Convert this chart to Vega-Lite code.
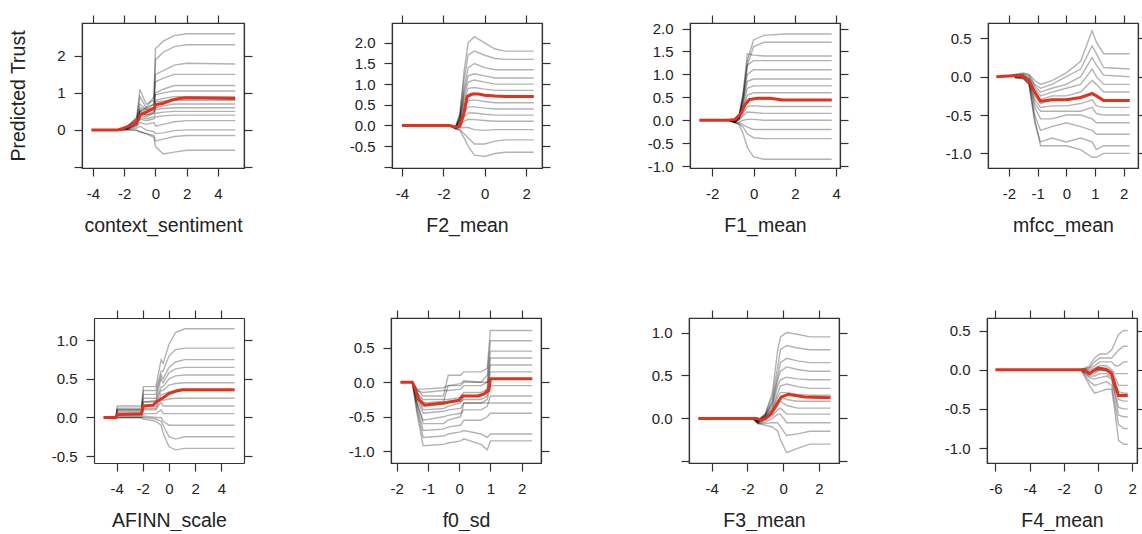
{
"$schema":"https://vega.github.io/schema/vega-lite/v6.json",
"background":"white",
"padding":{"left":7,"top":13,"right":0,"bottom":0},
"config":{
"view":{"stroke":"#333","strokeWidth":1.2},
"axis":{"domainColor":"#333","domainWidth":1.2,"tickColor":"#333","tickWidth":1.2,"tickSize":8,"grid":false,"labelColor":"#222","titleColor":"#222","labelFont":"Liberation Sans","titleFont":"Liberation Sans","labelFontSize":15,"titleFontSize":19.5,"titleFontWeight":"normal","labelFlush":false,"labelOverlap":false},
"axisBottom":{"labelPadding":10,"titlePadding":13,"minExtent":35,"maxExtent":35},
"axisTop":{"minExtent":8,"maxExtent":8},
"axisLeft":{"labelPadding":9,"minExtent":44,"maxExtent":44,"titlePadding":10},
"axisRight":{"minExtent":8,"maxExtent":8}
},
"datasets":{
"pd":[
{"p":1,"x":-4.1,"y":0},{"p":1,"x":-2.4,"y":0},{"p":1,"x":-2.0,"y":0.05},{"p":1,"x":-1.6,"y":0.12},{"p":1,"x":-1.3,"y":0.18},{"p":1,"x":-1.05,"y":0.3},{"p":1,"x":-1.0,"y":0.4},{"p":1,"x":-0.5,"y":0.5},{"p":1,"x":-0.05,"y":0.6},{"p":1,"x":0,"y":0.68},{"p":1,"x":0.5,"y":0.72},{"p":1,"x":1.0,"y":0.8},{"p":1,"x":1.5,"y":0.85},{"p":1,"x":2.0,"y":0.87},{"p":1,"x":5.1,"y":0.85},
{"p":2,"x":-4,"y":0},{"p":2,"x":-1.7,"y":0},{"p":2,"x":-1.4,"y":-0.04},{"p":2,"x":-1.2,"y":-0.02},{"p":2,"x":-1.0,"y":0.3},{"p":2,"x":-0.85,"y":0.7},{"p":2,"x":-0.6,"y":0.76},{"p":2,"x":-0.3,"y":0.76},{"p":2,"x":0,"y":0.73},{"p":2,"x":0.5,"y":0.71},{"p":2,"x":1,"y":0.7},{"p":2,"x":2.37,"y":0.7},
{"p":3,"x":-2.63,"y":0},{"p":3,"x":-1.2,"y":0},{"p":3,"x":-0.9,"y":0.02},{"p":3,"x":-0.6,"y":0.15},{"p":3,"x":-0.4,"y":0.35},{"p":3,"x":-0.2,"y":0.45},{"p":3,"x":0.2,"y":0.48},{"p":3,"x":0.8,"y":0.48},{"p":3,"x":1.4,"y":0.44},{"p":3,"x":3.79,"y":0.44},
{"p":4,"x":-2.44,"y":0},{"p":4,"x":-2.0,"y":0.01},{"p":4,"x":-1.6,"y":0.02},{"p":4,"x":-1.3,"y":-0.05},{"p":4,"x":-1.1,"y":-0.2},{"p":4,"x":-0.9,"y":-0.32},{"p":4,"x":-0.5,"y":-0.3},{"p":4,"x":0,"y":-0.3},{"p":4,"x":0.5,"y":-0.27},{"p":4,"x":0.9,"y":-0.22},{"p":4,"x":1.05,"y":-0.25},{"p":4,"x":1.3,"y":-0.31},{"p":4,"x":2.21,"y":-0.31},
{"p":5,"x":-5,"y":0},{"p":5,"x":-4.05,"y":0},{"p":5,"x":-3.95,"y":0.04},{"p":5,"x":-2.1,"y":0.05},{"p":5,"x":-1.95,"y":0.15},{"p":5,"x":-1.2,"y":0.16},{"p":5,"x":-1.0,"y":0.2},{"p":5,"x":-0.5,"y":0.25},{"p":5,"x":0,"y":0.31},{"p":5,"x":0.5,"y":0.34},{"p":5,"x":1.0,"y":0.36},{"p":5,"x":5,"y":0.36},
{"p":6,"x":-1.88,"y":0},{"p":6,"x":-1.5,"y":0},{"p":6,"x":-1.4,"y":-0.1},{"p":6,"x":-1.3,"y":-0.25},{"p":6,"x":-1.1,"y":-0.33},{"p":6,"x":-0.5,"y":-0.3},{"p":6,"x":0,"y":-0.26},{"p":6,"x":0.1,"y":-0.2},{"p":6,"x":0.6,"y":-0.2},{"p":6,"x":0.8,"y":-0.17},{"p":6,"x":0.95,"y":-0.12},{"p":6,"x":1.0,"y":0.05},{"p":6,"x":2.34,"y":0.05},
{"p":7,"x":-4.75,"y":0},{"p":7,"x":-1.5,"y":0},{"p":7,"x":-1.2,"y":-0.02},{"p":7,"x":-1.0,"y":0},{"p":7,"x":-0.7,"y":0.05},{"p":7,"x":-0.4,"y":0.15},{"p":7,"x":-0.1,"y":0.25},{"p":7,"x":0.3,"y":0.28},{"p":7,"x":0.6,"y":0.27},{"p":7,"x":1.2,"y":0.25},{"p":7,"x":2.66,"y":0.24},
{"p":8,"x":-6,"y":0},{"p":8,"x":-0.8,"y":0},{"p":8,"x":-0.5,"y":-0.05},{"p":8,"x":-0.3,"y":-0.02},{"p":8,"x":0,"y":0.02},{"p":8,"x":0.5,"y":0},{"p":8,"x":0.8,"y":-0.05},{"p":8,"x":1.0,"y":-0.2},{"p":8,"x":1.2,"y":-0.33},{"p":8,"x":1.74,"y":-0.33}
],
"ice":[
{"p":1,"c":1,"x":-2.3,"y":0},{"p":1,"c":1,"x":-1.8,"y":0.05},{"p":1,"c":1,"x":-1.2,"y":0.2},{"p":1,"c":1,"x":-1.0,"y":0.5},{"p":1,"c":1,"x":-0.6,"y":0.6},{"p":1,"c":1,"x":-0.1,"y":0.9},{"p":1,"c":1,"x":0,"y":2.2},{"p":1,"c":1,"x":0.5,"y":2.4},{"p":1,"c":1,"x":1.2,"y":2.55},{"p":1,"c":1,"x":2.0,"y":2.6},{"p":1,"c":1,"x":5.1,"y":2.6},
{"p":1,"c":2,"x":-2.3,"y":0},{"p":1,"c":2,"x":-1.8,"y":0.1},{"p":1,"c":2,"x":-1.2,"y":0.3},{"p":1,"c":2,"x":-1.0,"y":1.1},{"p":1,"c":2,"x":-0.6,"y":0.7},{"p":1,"c":2,"x":-0.1,"y":0.8},{"p":1,"c":2,"x":0,"y":1.9},{"p":1,"c":2,"x":0.5,"y":2.1},{"p":1,"c":2,"x":1.2,"y":2.25},{"p":1,"c":2,"x":2.0,"y":2.3},{"p":1,"c":2,"x":5.1,"y":2.3},
{"p":1,"c":3,"x":-2.3,"y":0},{"p":1,"c":3,"x":-1.8,"y":0.05},{"p":1,"c":3,"x":-1.2,"y":0.25},{"p":1,"c":3,"x":-1.0,"y":0.6},{"p":1,"c":3,"x":-0.6,"y":0.55},{"p":1,"c":3,"x":-0.1,"y":0.7},{"p":1,"c":3,"x":0,"y":1.5},{"p":1,"c":3,"x":0.5,"y":1.6},{"p":1,"c":3,"x":1.2,"y":1.75},{"p":1,"c":3,"x":2.0,"y":1.8},{"p":1,"c":3,"x":5.1,"y":1.78},
{"p":1,"c":4,"x":-2.3,"y":0},{"p":1,"c":4,"x":-1.8,"y":0.08},{"p":1,"c":4,"x":-1.2,"y":0.35},{"p":1,"c":4,"x":-1.0,"y":0.9},{"p":1,"c":4,"x":-0.6,"y":0.6},{"p":1,"c":4,"x":-0.1,"y":0.7},{"p":1,"c":4,"x":0,"y":1.3},{"p":1,"c":4,"x":0.5,"y":1.4},{"p":1,"c":4,"x":1.2,"y":1.5},{"p":1,"c":4,"x":2.0,"y":1.5},{"p":1,"c":4,"x":5.1,"y":1.5},
{"p":1,"c":5,"x":-2.3,"y":0},{"p":1,"c":5,"x":-1.8,"y":0.05},{"p":1,"c":5,"x":-1.2,"y":0.2},{"p":1,"c":5,"x":-1.0,"y":0.5},{"p":1,"c":5,"x":-0.6,"y":0.45},{"p":1,"c":5,"x":-0.1,"y":0.6},{"p":1,"c":5,"x":0,"y":1.0},{"p":1,"c":5,"x":0.5,"y":1.1},{"p":1,"c":5,"x":1.2,"y":1.2},{"p":1,"c":5,"x":2.0,"y":1.2},{"p":1,"c":5,"x":5.1,"y":1.2},
{"p":1,"c":6,"x":-2.3,"y":0},{"p":1,"c":6,"x":-1.8,"y":0.1},{"p":1,"c":6,"x":-1.2,"y":0.3},{"p":1,"c":6,"x":-1.0,"y":0.7},{"p":1,"c":6,"x":-0.6,"y":0.55},{"p":1,"c":6,"x":-0.1,"y":0.6},{"p":1,"c":6,"x":0,"y":0.95},{"p":1,"c":6,"x":0.5,"y":1.0},{"p":1,"c":6,"x":1.2,"y":1.05},{"p":1,"c":6,"x":2.0,"y":1.05},{"p":1,"c":6,"x":5.1,"y":1.05},
{"p":1,"c":7,"x":-2.3,"y":0},{"p":1,"c":7,"x":-1.8,"y":0.04},{"p":1,"c":7,"x":-1.2,"y":0.2},{"p":1,"c":7,"x":-1.0,"y":0.45},{"p":1,"c":7,"x":-0.6,"y":0.4},{"p":1,"c":7,"x":-0.1,"y":0.5},{"p":1,"c":7,"x":0,"y":0.8},{"p":1,"c":7,"x":0.5,"y":0.85},{"p":1,"c":7,"x":1.2,"y":0.9},{"p":1,"c":7,"x":2.0,"y":0.9},{"p":1,"c":7,"x":5.1,"y":0.9},
{"p":1,"c":8,"x":-2.3,"y":0},{"p":1,"c":8,"x":-1.8,"y":0.06},{"p":1,"c":8,"x":-1.2,"y":0.25},{"p":1,"c":8,"x":-1.0,"y":0.55},{"p":1,"c":8,"x":-0.6,"y":0.5},{"p":1,"c":8,"x":-0.1,"y":0.55},{"p":1,"c":8,"x":0,"y":0.75},{"p":1,"c":8,"x":0.5,"y":0.78},{"p":1,"c":8,"x":1.2,"y":0.8},{"p":1,"c":8,"x":2.0,"y":0.8},{"p":1,"c":8,"x":5.1,"y":0.8},
{"p":1,"c":9,"x":-2.3,"y":0},{"p":1,"c":9,"x":-1.8,"y":0.03},{"p":1,"c":9,"x":-1.2,"y":0.15},{"p":1,"c":9,"x":-1.0,"y":0.4},{"p":1,"c":9,"x":-0.6,"y":0.35},{"p":1,"c":9,"x":-0.1,"y":0.45},{"p":1,"c":9,"x":0,"y":0.6},{"p":1,"c":9,"x":0.5,"y":0.65},{"p":1,"c":9,"x":1.2,"y":0.7},{"p":1,"c":9,"x":2.0,"y":0.7},{"p":1,"c":9,"x":5.1,"y":0.7},
{"p":1,"c":10,"x":-2.3,"y":0},{"p":1,"c":10,"x":-1.8,"y":0.05},{"p":1,"c":10,"x":-1.2,"y":0.2},{"p":1,"c":10,"x":-1.0,"y":0.5},{"p":1,"c":10,"x":-0.6,"y":0.4},{"p":1,"c":10,"x":-0.1,"y":0.45},{"p":1,"c":10,"x":0,"y":0.55},{"p":1,"c":10,"x":0.5,"y":0.58},{"p":1,"c":10,"x":1.2,"y":0.6},{"p":1,"c":10,"x":2.0,"y":0.6},{"p":1,"c":10,"x":5.1,"y":0.6},
{"p":1,"c":11,"x":-2.3,"y":0},{"p":1,"c":11,"x":-1.8,"y":0.02},{"p":1,"c":11,"x":-1.2,"y":0.15},{"p":1,"c":11,"x":-1.0,"y":0.35},{"p":1,"c":11,"x":-0.6,"y":0.3},{"p":1,"c":11,"x":-0.1,"y":0.35},{"p":1,"c":11,"x":0,"y":0.45},{"p":1,"c":11,"x":0.5,"y":0.48},{"p":1,"c":11,"x":1.2,"y":0.5},{"p":1,"c":11,"x":2.0,"y":0.5},{"p":1,"c":11,"x":5.1,"y":0.5},
{"p":1,"c":12,"x":-2.3,"y":0},{"p":1,"c":12,"x":-1.8,"y":0.04},{"p":1,"c":12,"x":-1.2,"y":0.12},{"p":1,"c":12,"x":-1.0,"y":0.3},{"p":1,"c":12,"x":-0.6,"y":0.25},{"p":1,"c":12,"x":-0.1,"y":0.3},{"p":1,"c":12,"x":0,"y":0.35},{"p":1,"c":12,"x":0.5,"y":0.38},{"p":1,"c":12,"x":1.2,"y":0.4},{"p":1,"c":12,"x":2.0,"y":0.4},{"p":1,"c":12,"x":5.1,"y":0.4},
{"p":1,"c":13,"x":-2.3,"y":0},{"p":1,"c":13,"x":-1.8,"y":0.02},{"p":1,"c":13,"x":-1.2,"y":0.1},{"p":1,"c":13,"x":-1.0,"y":0.2},{"p":1,"c":13,"x":-0.6,"y":0.15},{"p":1,"c":13,"x":-0.1,"y":0.2},{"p":1,"c":13,"x":0,"y":0.1},{"p":1,"c":13,"x":0.5,"y":0.15},{"p":1,"c":13,"x":1.2,"y":0.22},{"p":1,"c":13,"x":2.0,"y":0.25},{"p":1,"c":13,"x":5.1,"y":0.25},
{"p":1,"c":14,"x":-2.3,"y":0},{"p":1,"c":14,"x":-1.8,"y":0.01},{"p":1,"c":14,"x":-1.2,"y":0.05},{"p":1,"c":14,"x":-1.0,"y":0.1},{"p":1,"c":14,"x":-0.6,"y":0},{"p":1,"c":14,"x":-0.1,"y":-0.05},{"p":1,"c":14,"x":0,"y":-0.1},{"p":1,"c":14,"x":0.5,"y":-0.08},{"p":1,"c":14,"x":1.2,"y":-0.02},{"p":1,"c":14,"x":2.0,"y":0},{"p":1,"c":14,"x":5.1,"y":0},
{"p":1,"c":15,"x":-2.3,"y":0},{"p":1,"c":15,"x":-1.8,"y":0},{"p":1,"c":15,"x":-1.2,"y":-0.02},{"p":1,"c":15,"x":-1.0,"y":-0.05},{"p":1,"c":15,"x":-0.6,"y":-0.1},{"p":1,"c":15,"x":-0.1,"y":-0.15},{"p":1,"c":15,"x":0,"y":-0.3},{"p":1,"c":15,"x":0.5,"y":-0.25},{"p":1,"c":15,"x":1.2,"y":-0.18},{"p":1,"c":15,"x":2.0,"y":-0.15},{"p":1,"c":15,"x":5.1,"y":-0.15},
{"p":1,"c":16,"x":-2.3,"y":0},{"p":1,"c":16,"x":-1.8,"y":0},{"p":1,"c":16,"x":-1.2,"y":0},{"p":1,"c":16,"x":-1.0,"y":-0.05},{"p":1,"c":16,"x":-0.6,"y":-0.1},{"p":1,"c":16,"x":-0.1,"y":-0.2},{"p":1,"c":16,"x":0,"y":-0.45},{"p":1,"c":16,"x":0.5,"y":-0.65},{"p":1,"c":16,"x":1.2,"y":-0.6},{"p":1,"c":16,"x":2.0,"y":-0.55},{"p":1,"c":16,"x":5.1,"y":-0.55},
{"p":2,"c":1,"x":-1.7,"y":0},{"p":2,"c":1,"x":-1.4,"y":-0.02},{"p":2,"c":1,"x":-1.2,"y":0.3},{"p":2,"c":1,"x":-1.0,"y":1.3},{"p":2,"c":1,"x":-0.8,"y":2.0},{"p":2,"c":1,"x":-0.5,"y":2.15},{"p":2,"c":1,"x":0,"y":2.0},{"p":2,"c":1,"x":0.5,"y":1.85},{"p":2,"c":1,"x":1.0,"y":1.8},{"p":2,"c":1,"x":2.37,"y":1.8},
{"p":2,"c":2,"x":-1.7,"y":0},{"p":2,"c":2,"x":-1.4,"y":-0.03},{"p":2,"c":2,"x":-1.2,"y":0.25},{"p":2,"c":2,"x":-1.0,"y":1.1},{"p":2,"c":2,"x":-0.8,"y":1.7},{"p":2,"c":2,"x":-0.5,"y":1.8},{"p":2,"c":2,"x":0,"y":1.7},{"p":2,"c":2,"x":0.5,"y":1.62},{"p":2,"c":2,"x":1.0,"y":1.6},{"p":2,"c":2,"x":2.37,"y":1.6},
{"p":2,"c":3,"x":-1.7,"y":0},{"p":2,"c":3,"x":-1.4,"y":-0.05},{"p":2,"c":3,"x":-1.2,"y":0.2},{"p":2,"c":3,"x":-1.0,"y":0.9},{"p":2,"c":3,"x":-0.8,"y":1.4},{"p":2,"c":3,"x":-0.5,"y":1.5},{"p":2,"c":3,"x":0,"y":1.4},{"p":2,"c":3,"x":0.5,"y":1.35},{"p":2,"c":3,"x":1.0,"y":1.35},{"p":2,"c":3,"x":2.37,"y":1.35},
{"p":2,"c":4,"x":-1.7,"y":0},{"p":2,"c":4,"x":-1.4,"y":-0.04},{"p":2,"c":4,"x":-1.2,"y":0.2},{"p":2,"c":4,"x":-1.0,"y":0.8},{"p":2,"c":4,"x":-0.8,"y":1.2},{"p":2,"c":4,"x":-0.5,"y":1.25},{"p":2,"c":4,"x":0,"y":1.2},{"p":2,"c":4,"x":0.5,"y":1.15},{"p":2,"c":4,"x":1.0,"y":1.15},{"p":2,"c":4,"x":2.37,"y":1.15},
{"p":2,"c":5,"x":-1.7,"y":0},{"p":2,"c":5,"x":-1.4,"y":-0.05},{"p":2,"c":5,"x":-1.2,"y":0.15},{"p":2,"c":5,"x":-1.0,"y":0.7},{"p":2,"c":5,"x":-0.8,"y":1.05},{"p":2,"c":5,"x":-0.5,"y":1.1},{"p":2,"c":5,"x":0,"y":1.05},{"p":2,"c":5,"x":0.5,"y":1.0},{"p":2,"c":5,"x":1.0,"y":1.0},{"p":2,"c":5,"x":2.37,"y":1.0},
{"p":2,"c":6,"x":-1.7,"y":0},{"p":2,"c":6,"x":-1.4,"y":-0.05},{"p":2,"c":6,"x":-1.2,"y":0.15},{"p":2,"c":6,"x":-1.0,"y":0.6},{"p":2,"c":6,"x":-0.8,"y":0.9},{"p":2,"c":6,"x":-0.5,"y":0.92},{"p":2,"c":6,"x":0,"y":0.88},{"p":2,"c":6,"x":0.5,"y":0.85},{"p":2,"c":6,"x":1.0,"y":0.85},{"p":2,"c":6,"x":2.37,"y":0.85},
{"p":2,"c":7,"x":-1.7,"y":0},{"p":2,"c":7,"x":-1.4,"y":-0.06},{"p":2,"c":7,"x":-1.2,"y":0.1},{"p":2,"c":7,"x":-1.0,"y":0.5},{"p":2,"c":7,"x":-0.8,"y":0.75},{"p":2,"c":7,"x":-0.5,"y":0.78},{"p":2,"c":7,"x":0,"y":0.72},{"p":2,"c":7,"x":0.5,"y":0.7},{"p":2,"c":7,"x":1.0,"y":0.7},{"p":2,"c":7,"x":2.37,"y":0.7},
{"p":2,"c":8,"x":-1.7,"y":0},{"p":2,"c":8,"x":-1.4,"y":-0.06},{"p":2,"c":8,"x":-1.2,"y":0.1},{"p":2,"c":8,"x":-1.0,"y":0.4},{"p":2,"c":8,"x":-0.8,"y":0.6},{"p":2,"c":8,"x":-0.5,"y":0.62},{"p":2,"c":8,"x":0,"y":0.58},{"p":2,"c":8,"x":0.5,"y":0.55},{"p":2,"c":8,"x":1.0,"y":0.55},{"p":2,"c":8,"x":2.37,"y":0.55},
{"p":2,"c":9,"x":-1.7,"y":0},{"p":2,"c":9,"x":-1.4,"y":-0.07},{"p":2,"c":9,"x":-1.2,"y":0.05},{"p":2,"c":9,"x":-1.0,"y":0.3},{"p":2,"c":9,"x":-0.8,"y":0.45},{"p":2,"c":9,"x":-0.5,"y":0.45},{"p":2,"c":9,"x":0,"y":0.42},{"p":2,"c":9,"x":0.5,"y":0.4},{"p":2,"c":9,"x":1.0,"y":0.4},{"p":2,"c":9,"x":2.37,"y":0.4},
{"p":2,"c":10,"x":-1.7,"y":0},{"p":2,"c":10,"x":-1.4,"y":-0.07},{"p":2,"c":10,"x":-1.2,"y":0.02},{"p":2,"c":10,"x":-1.0,"y":0.2},{"p":2,"c":10,"x":-0.8,"y":0.3},{"p":2,"c":10,"x":-0.5,"y":0.3},{"p":2,"c":10,"x":0,"y":0.27},{"p":2,"c":10,"x":0.5,"y":0.25},{"p":2,"c":10,"x":1.0,"y":0.25},{"p":2,"c":10,"x":2.37,"y":0.25},
{"p":2,"c":11,"x":-1.7,"y":0},{"p":2,"c":11,"x":-1.4,"y":-0.08},{"p":2,"c":11,"x":-1.2,"y":-0.02},{"p":2,"c":11,"x":-1.0,"y":0.1},{"p":2,"c":11,"x":-0.8,"y":0.15},{"p":2,"c":11,"x":-0.5,"y":0.14},{"p":2,"c":11,"x":0,"y":0.12},{"p":2,"c":11,"x":0.5,"y":0.1},{"p":2,"c":11,"x":1.0,"y":0.1},{"p":2,"c":11,"x":2.37,"y":0.1},
{"p":2,"c":12,"x":-1.7,"y":0},{"p":2,"c":12,"x":-1.4,"y":-0.08},{"p":2,"c":12,"x":-1.2,"y":-0.06},{"p":2,"c":12,"x":-1.0,"y":-0.05},{"p":2,"c":12,"x":-0.8,"y":-0.05},{"p":2,"c":12,"x":-0.5,"y":-0.1},{"p":2,"c":12,"x":0,"y":-0.12},{"p":2,"c":12,"x":0.5,"y":-0.1},{"p":2,"c":12,"x":1.0,"y":-0.1},{"p":2,"c":12,"x":2.37,"y":-0.1},
{"p":2,"c":13,"x":-1.7,"y":0},{"p":2,"c":13,"x":-1.4,"y":-0.08},{"p":2,"c":13,"x":-1.2,"y":-0.1},{"p":2,"c":13,"x":-1.0,"y":-0.2},{"p":2,"c":13,"x":-0.8,"y":-0.3},{"p":2,"c":13,"x":-0.5,"y":-0.45},{"p":2,"c":13,"x":0,"y":-0.45},{"p":2,"c":13,"x":0.5,"y":-0.38},{"p":2,"c":13,"x":1.0,"y":-0.35},{"p":2,"c":13,"x":2.37,"y":-0.35},
{"p":2,"c":14,"x":-1.7,"y":0},{"p":2,"c":14,"x":-1.4,"y":-0.08},{"p":2,"c":14,"x":-1.2,"y":-0.12},{"p":2,"c":14,"x":-1.0,"y":-0.3},{"p":2,"c":14,"x":-0.8,"y":-0.5},{"p":2,"c":14,"x":-0.5,"y":-0.72},{"p":2,"c":14,"x":0,"y":-0.75},{"p":2,"c":14,"x":0.5,"y":-0.68},{"p":2,"c":14,"x":1.0,"y":-0.65},{"p":2,"c":14,"x":2.37,"y":-0.65},
{"p":3,"c":1,"x":-1.2,"y":0},{"p":3,"c":1,"x":-0.9,"y":0},{"p":3,"c":1,"x":-0.7,"y":0.1},{"p":3,"c":1,"x":-0.5,"y":0.6},{"p":3,"c":1,"x":-0.3,"y":1.3},{"p":3,"c":1,"x":0,"y":1.75},{"p":3,"c":1,"x":0.5,"y":1.85},{"p":3,"c":1,"x":1.5,"y":1.88},{"p":3,"c":1,"x":3.79,"y":1.88},
{"p":3,"c":2,"x":-1.2,"y":0},{"p":3,"c":2,"x":-0.9,"y":0},{"p":3,"c":2,"x":-0.7,"y":0.1},{"p":3,"c":2,"x":-0.5,"y":0.5},{"p":3,"c":2,"x":-0.3,"y":1.2},{"p":3,"c":2,"x":0,"y":1.6},{"p":3,"c":2,"x":0.5,"y":1.7},{"p":3,"c":2,"x":1.5,"y":1.7},{"p":3,"c":2,"x":3.79,"y":1.7},
{"p":3,"c":3,"x":-1.2,"y":0},{"p":3,"c":3,"x":-0.9,"y":-0.02},{"p":3,"c":3,"x":-0.7,"y":0.1},{"p":3,"c":3,"x":-0.5,"y":0.6},{"p":3,"c":3,"x":-0.3,"y":1.45},{"p":3,"c":3,"x":0,"y":1.42},{"p":3,"c":3,"x":0.5,"y":1.4},{"p":3,"c":3,"x":1.5,"y":1.4},{"p":3,"c":3,"x":3.79,"y":1.4},
{"p":3,"c":4,"x":-1.2,"y":0},{"p":3,"c":4,"x":-0.9,"y":-0.02},{"p":3,"c":4,"x":-0.7,"y":0.08},{"p":3,"c":4,"x":-0.5,"y":0.5},{"p":3,"c":4,"x":-0.3,"y":1.2},{"p":3,"c":4,"x":0,"y":1.3},{"p":3,"c":4,"x":0.5,"y":1.3},{"p":3,"c":4,"x":1.5,"y":1.3},{"p":3,"c":4,"x":3.79,"y":1.3},
{"p":3,"c":5,"x":-1.2,"y":0},{"p":3,"c":5,"x":-0.9,"y":-0.02},{"p":3,"c":5,"x":-0.7,"y":0.08},{"p":3,"c":5,"x":-0.5,"y":0.45},{"p":3,"c":5,"x":-0.3,"y":1.0},{"p":3,"c":5,"x":0,"y":1.1},{"p":3,"c":5,"x":0.5,"y":1.1},{"p":3,"c":5,"x":1.5,"y":1.1},{"p":3,"c":5,"x":3.79,"y":1.1},
{"p":3,"c":6,"x":-1.2,"y":0},{"p":3,"c":6,"x":-0.9,"y":-0.03},{"p":3,"c":6,"x":-0.7,"y":0.06},{"p":3,"c":6,"x":-0.5,"y":0.4},{"p":3,"c":6,"x":-0.3,"y":0.85},{"p":3,"c":6,"x":0,"y":0.9},{"p":3,"c":6,"x":0.5,"y":0.9},{"p":3,"c":6,"x":1.5,"y":0.9},{"p":3,"c":6,"x":3.79,"y":0.9},
{"p":3,"c":7,"x":-1.2,"y":0},{"p":3,"c":7,"x":-0.9,"y":-0.03},{"p":3,"c":7,"x":-0.7,"y":0.05},{"p":3,"c":7,"x":-0.5,"y":0.35},{"p":3,"c":7,"x":-0.3,"y":0.7},{"p":3,"c":7,"x":0,"y":0.75},{"p":3,"c":7,"x":0.5,"y":0.75},{"p":3,"c":7,"x":1.5,"y":0.75},{"p":3,"c":7,"x":3.79,"y":0.75},
{"p":3,"c":8,"x":-1.2,"y":0},{"p":3,"c":8,"x":-0.9,"y":-0.03},{"p":3,"c":8,"x":-0.7,"y":0.05},{"p":3,"c":8,"x":-0.5,"y":0.3},{"p":3,"c":8,"x":-0.3,"y":0.55},{"p":3,"c":8,"x":0,"y":0.6},{"p":3,"c":8,"x":0.5,"y":0.6},{"p":3,"c":8,"x":1.5,"y":0.6},{"p":3,"c":8,"x":3.79,"y":0.6},
{"p":3,"c":9,"x":-1.2,"y":0},{"p":3,"c":9,"x":-0.9,"y":-0.04},{"p":3,"c":9,"x":-0.7,"y":0.03},{"p":3,"c":9,"x":-0.5,"y":0.25},{"p":3,"c":9,"x":-0.3,"y":0.45},{"p":3,"c":9,"x":0,"y":0.48},{"p":3,"c":9,"x":0.5,"y":0.46},{"p":3,"c":9,"x":1.5,"y":0.45},{"p":3,"c":9,"x":3.79,"y":0.45},
{"p":3,"c":10,"x":-1.2,"y":0},{"p":3,"c":10,"x":-0.9,"y":-0.04},{"p":3,"c":10,"x":-0.7,"y":0.02},{"p":3,"c":10,"x":-0.5,"y":0.15},{"p":3,"c":10,"x":-0.3,"y":0.3},{"p":3,"c":10,"x":0,"y":0.32},{"p":3,"c":10,"x":0.5,"y":0.3},{"p":3,"c":10,"x":1.5,"y":0.3},{"p":3,"c":10,"x":3.79,"y":0.3},
{"p":3,"c":11,"x":-1.2,"y":0},{"p":3,"c":11,"x":-0.9,"y":-0.04},{"p":3,"c":11,"x":-0.7,"y":0},{"p":3,"c":11,"x":-0.5,"y":0.1},{"p":3,"c":11,"x":-0.3,"y":0.18},{"p":3,"c":11,"x":0,"y":0.17},{"p":3,"c":11,"x":0.5,"y":0.15},{"p":3,"c":11,"x":1.5,"y":0.15},{"p":3,"c":11,"x":3.79,"y":0.15},
{"p":3,"c":12,"x":-1.2,"y":0},{"p":3,"c":12,"x":-0.9,"y":-0.05},{"p":3,"c":12,"x":-0.7,"y":-0.04},{"p":3,"c":12,"x":-0.5,"y":0},{"p":3,"c":12,"x":-0.3,"y":0.02},{"p":3,"c":12,"x":0,"y":0.02},{"p":3,"c":12,"x":0.5,"y":0},{"p":3,"c":12,"x":1.5,"y":0},{"p":3,"c":12,"x":3.79,"y":0},
{"p":3,"c":13,"x":-1.2,"y":0},{"p":3,"c":13,"x":-0.9,"y":-0.05},{"p":3,"c":13,"x":-0.7,"y":-0.06},{"p":3,"c":13,"x":-0.5,"y":-0.1},{"p":3,"c":13,"x":-0.3,"y":-0.15},{"p":3,"c":13,"x":0,"y":-0.2},{"p":3,"c":13,"x":0.5,"y":-0.2},{"p":3,"c":13,"x":1.5,"y":-0.2},{"p":3,"c":13,"x":3.79,"y":-0.2},
{"p":3,"c":14,"x":-1.2,"y":0},{"p":3,"c":14,"x":-0.9,"y":-0.05},{"p":3,"c":14,"x":-0.7,"y":-0.08},{"p":3,"c":14,"x":-0.5,"y":-0.15},{"p":3,"c":14,"x":-0.3,"y":-0.3},{"p":3,"c":14,"x":0,"y":-0.38},{"p":3,"c":14,"x":0.5,"y":-0.4},{"p":3,"c":14,"x":1.5,"y":-0.4},{"p":3,"c":14,"x":3.79,"y":-0.4},
{"p":3,"c":15,"x":-1.2,"y":0},{"p":3,"c":15,"x":-0.9,"y":-0.05},{"p":3,"c":15,"x":-0.7,"y":-0.1},{"p":3,"c":15,"x":-0.5,"y":-0.3},{"p":3,"c":15,"x":-0.3,"y":-0.6},{"p":3,"c":15,"x":0,"y":-0.8},{"p":3,"c":15,"x":0.5,"y":-0.85},{"p":3,"c":15,"x":1.5,"y":-0.85},{"p":3,"c":15,"x":3.79,"y":-0.85},
{"p":4,"c":1,"x":-1.8,"y":0.03},{"p":4,"c":1,"x":-1.5,"y":0.05},{"p":4,"c":1,"x":-1.3,"y":0.03},{"p":4,"c":1,"x":-1.1,"y":-0.05},{"p":4,"c":1,"x":-0.9,"y":-0.1},{"p":4,"c":1,"x":-0.5,"y":-0.05},{"p":4,"c":1,"x":0,"y":0.05},{"p":4,"c":1,"x":0.5,"y":0.2},{"p":4,"c":1,"x":0.9,"y":0.6},{"p":4,"c":1,"x":1.05,"y":0.45},{"p":4,"c":1,"x":1.3,"y":0.3},{"p":4,"c":1,"x":2.21,"y":0.3},
{"p":4,"c":2,"x":-1.8,"y":0.02},{"p":4,"c":2,"x":-1.5,"y":0.04},{"p":4,"c":2,"x":-1.3,"y":0.02},{"p":4,"c":2,"x":-1.1,"y":-0.1},{"p":4,"c":2,"x":-0.9,"y":-0.15},{"p":4,"c":2,"x":-0.5,"y":-0.1},{"p":4,"c":2,"x":0,"y":0},{"p":4,"c":2,"x":0.5,"y":0.1},{"p":4,"c":2,"x":0.9,"y":0.4},{"p":4,"c":2,"x":1.05,"y":0.3},{"p":4,"c":2,"x":1.3,"y":0.12},{"p":4,"c":2,"x":2.21,"y":0.1},
{"p":4,"c":3,"x":-1.8,"y":0.02},{"p":4,"c":3,"x":-1.5,"y":0.03},{"p":4,"c":3,"x":-1.3,"y":0},{"p":4,"c":3,"x":-1.1,"y":-0.12},{"p":4,"c":3,"x":-0.9,"y":-0.2},{"p":4,"c":3,"x":-0.5,"y":-0.15},{"p":4,"c":3,"x":0,"y":-0.1},{"p":4,"c":3,"x":0.5,"y":0},{"p":4,"c":3,"x":0.9,"y":0.25},{"p":4,"c":3,"x":1.05,"y":0.15},{"p":4,"c":3,"x":1.3,"y":0.02},{"p":4,"c":3,"x":2.21,"y":0},
{"p":4,"c":4,"x":-1.8,"y":0.01},{"p":4,"c":4,"x":-1.5,"y":0.02},{"p":4,"c":4,"x":-1.3,"y":-0.02},{"p":4,"c":4,"x":-1.1,"y":-0.15},{"p":4,"c":4,"x":-0.9,"y":-0.25},{"p":4,"c":4,"x":-0.5,"y":-0.2},{"p":4,"c":4,"x":0,"y":-0.15},{"p":4,"c":4,"x":0.5,"y":-0.1},{"p":4,"c":4,"x":0.9,"y":0.1},{"p":4,"c":4,"x":1.05,"y":0},{"p":4,"c":4,"x":1.3,"y":-0.1},{"p":4,"c":4,"x":2.21,"y":-0.1},
{"p":4,"c":5,"x":-1.8,"y":0.01},{"p":4,"c":5,"x":-1.5,"y":0.02},{"p":4,"c":5,"x":-1.3,"y":-0.03},{"p":4,"c":5,"x":-1.1,"y":-0.2},{"p":4,"c":5,"x":-0.9,"y":-0.3},{"p":4,"c":5,"x":-0.5,"y":-0.25},{"p":4,"c":5,"x":0,"y":-0.25},{"p":4,"c":5,"x":0.5,"y":-0.2},{"p":4,"c":5,"x":0.9,"y":-0.05},{"p":4,"c":5,"x":1.05,"y":-0.1},{"p":4,"c":5,"x":1.3,"y":-0.2},{"p":4,"c":5,"x":2.21,"y":-0.2},
{"p":4,"c":6,"x":-1.8,"y":0.01},{"p":4,"c":6,"x":-1.5,"y":0.01},{"p":4,"c":6,"x":-1.3,"y":-0.04},{"p":4,"c":6,"x":-1.1,"y":-0.25},{"p":4,"c":6,"x":-0.9,"y":-0.35},{"p":4,"c":6,"x":-0.5,"y":-0.3},{"p":4,"c":6,"x":0,"y":-0.3},{"p":4,"c":6,"x":0.5,"y":-0.28},{"p":4,"c":6,"x":0.9,"y":-0.2},{"p":4,"c":6,"x":1.05,"y":-0.25},{"p":4,"c":6,"x":1.3,"y":-0.3},{"p":4,"c":6,"x":2.21,"y":-0.3},
{"p":4,"c":7,"x":-1.8,"y":0},{"p":4,"c":7,"x":-1.5,"y":0},{"p":4,"c":7,"x":-1.3,"y":-0.05},{"p":4,"c":7,"x":-1.1,"y":-0.3},{"p":4,"c":7,"x":-0.9,"y":-0.4},{"p":4,"c":7,"x":-0.5,"y":-0.38},{"p":4,"c":7,"x":0,"y":-0.38},{"p":4,"c":7,"x":0.5,"y":-0.35},{"p":4,"c":7,"x":0.9,"y":-0.3},{"p":4,"c":7,"x":1.05,"y":-0.38},{"p":4,"c":7,"x":1.3,"y":-0.4},{"p":4,"c":7,"x":2.21,"y":-0.4},
{"p":4,"c":8,"x":-1.8,"y":0},{"p":4,"c":8,"x":-1.5,"y":0},{"p":4,"c":8,"x":-1.3,"y":-0.06},{"p":4,"c":8,"x":-1.1,"y":-0.35},{"p":4,"c":8,"x":-0.9,"y":-0.45},{"p":4,"c":8,"x":-0.5,"y":-0.45},{"p":4,"c":8,"x":0,"y":-0.45},{"p":4,"c":8,"x":0.5,"y":-0.45},{"p":4,"c":8,"x":0.9,"y":-0.4},{"p":4,"c":8,"x":1.05,"y":-0.48},{"p":4,"c":8,"x":1.3,"y":-0.5},{"p":4,"c":8,"x":2.21,"y":-0.5},
{"p":4,"c":9,"x":-1.8,"y":0},{"p":4,"c":9,"x":-1.5,"y":-0.01},{"p":4,"c":9,"x":-1.3,"y":-0.07},{"p":4,"c":9,"x":-1.1,"y":-0.4},{"p":4,"c":9,"x":-0.9,"y":-0.55},{"p":4,"c":9,"x":-0.5,"y":-0.55},{"p":4,"c":9,"x":0,"y":-0.5},{"p":4,"c":9,"x":0.5,"y":-0.5},{"p":4,"c":9,"x":0.9,"y":-0.55},{"p":4,"c":9,"x":1.05,"y":-0.6},{"p":4,"c":9,"x":1.3,"y":-0.6},{"p":4,"c":9,"x":2.21,"y":-0.6},
{"p":4,"c":10,"x":-1.8,"y":-0.01},{"p":4,"c":10,"x":-1.5,"y":-0.02},{"p":4,"c":10,"x":-1.3,"y":-0.08},{"p":4,"c":10,"x":-1.1,"y":-0.5},{"p":4,"c":10,"x":-0.9,"y":-0.7},{"p":4,"c":10,"x":-0.5,"y":-0.65},{"p":4,"c":10,"x":0,"y":-0.6},{"p":4,"c":10,"x":0.5,"y":-0.65},{"p":4,"c":10,"x":0.9,"y":-0.7},{"p":4,"c":10,"x":1.05,"y":-0.75},{"p":4,"c":10,"x":1.3,"y":-0.75},{"p":4,"c":10,"x":2.21,"y":-0.75},
{"p":4,"c":11,"x":-1.8,"y":-0.01},{"p":4,"c":11,"x":-1.5,"y":-0.02},{"p":4,"c":11,"x":-1.3,"y":-0.1},{"p":4,"c":11,"x":-1.1,"y":-0.6},{"p":4,"c":11,"x":-0.9,"y":-0.85},{"p":4,"c":11,"x":-0.5,"y":-0.8},{"p":4,"c":11,"x":0,"y":-0.85},{"p":4,"c":11,"x":0.5,"y":-0.8},{"p":4,"c":11,"x":0.9,"y":-0.85},{"p":4,"c":11,"x":1.05,"y":-0.95},{"p":4,"c":11,"x":1.3,"y":-0.9},{"p":4,"c":11,"x":2.21,"y":-0.9},
{"p":4,"c":12,"x":-1.8,"y":-0.01},{"p":4,"c":12,"x":-1.5,"y":-0.03},{"p":4,"c":12,"x":-1.3,"y":-0.1},{"p":4,"c":12,"x":-1.1,"y":-0.55},{"p":4,"c":12,"x":-0.9,"y":-0.9},{"p":4,"c":12,"x":-0.5,"y":-0.9},{"p":4,"c":12,"x":0,"y":-0.9},{"p":4,"c":12,"x":0.5,"y":-0.95},{"p":4,"c":12,"x":0.9,"y":-1.05},{"p":4,"c":12,"x":1.05,"y":-1.05},{"p":4,"c":12,"x":1.3,"y":-1.0},{"p":4,"c":12,"x":2.21,"y":-1.0},
{"p":5,"c":1,"x":-4.05,"y":0},{"p":5,"c":1,"x":-3.95,"y":0.15},{"p":5,"c":1,"x":-2.1,"y":0.15},{"p":5,"c":1,"x":-1.95,"y":0.4},{"p":5,"c":1,"x":-1.0,"y":0.4},{"p":5,"c":1,"x":-0.6,"y":0.75},{"p":5,"c":1,"x":-0.45,"y":0.7},{"p":5,"c":1,"x":0,"y":0.95},{"p":5,"c":1,"x":0.5,"y":1.1},{"p":5,"c":1,"x":1.2,"y":1.15},{"p":5,"c":1,"x":5,"y":1.15},
{"p":5,"c":2,"x":-4.05,"y":0},{"p":5,"c":2,"x":-3.95,"y":0.1},{"p":5,"c":2,"x":-2.1,"y":0.1},{"p":5,"c":2,"x":-1.95,"y":0.35},{"p":5,"c":2,"x":-1.0,"y":0.35},{"p":5,"c":2,"x":-0.6,"y":0.6},{"p":5,"c":2,"x":-0.45,"y":0.6},{"p":5,"c":2,"x":0,"y":0.8},{"p":5,"c":2,"x":0.5,"y":0.88},{"p":5,"c":2,"x":1.2,"y":0.9},{"p":5,"c":2,"x":5,"y":0.9},
{"p":5,"c":3,"x":-4.05,"y":0},{"p":5,"c":3,"x":-3.95,"y":0.12},{"p":5,"c":3,"x":-2.1,"y":0.12},{"p":5,"c":3,"x":-1.95,"y":0.3},{"p":5,"c":3,"x":-1.0,"y":0.3},{"p":5,"c":3,"x":-0.6,"y":0.55},{"p":5,"c":3,"x":-0.45,"y":0.5},{"p":5,"c":3,"x":0,"y":0.65},{"p":5,"c":3,"x":0.5,"y":0.72},{"p":5,"c":3,"x":1.2,"y":0.75},{"p":5,"c":3,"x":5,"y":0.75},
{"p":5,"c":4,"x":-4.05,"y":0},{"p":5,"c":4,"x":-3.95,"y":0.08},{"p":5,"c":4,"x":-2.1,"y":0.08},{"p":5,"c":4,"x":-1.95,"y":0.25},{"p":5,"c":4,"x":-1.0,"y":0.25},{"p":5,"c":4,"x":-0.6,"y":0.5},{"p":5,"c":4,"x":-0.45,"y":0.45},{"p":5,"c":4,"x":0,"y":0.58},{"p":5,"c":4,"x":0.5,"y":0.63},{"p":5,"c":4,"x":1.2,"y":0.65},{"p":5,"c":4,"x":5,"y":0.65},
{"p":5,"c":5,"x":-4.05,"y":0},{"p":5,"c":5,"x":-3.95,"y":0.1},{"p":5,"c":5,"x":-2.1,"y":0.1},{"p":5,"c":5,"x":-1.95,"y":0.2},{"p":5,"c":5,"x":-1.0,"y":0.22},{"p":5,"c":5,"x":-0.6,"y":0.4},{"p":5,"c":5,"x":-0.45,"y":0.4},{"p":5,"c":5,"x":0,"y":0.5},{"p":5,"c":5,"x":0.5,"y":0.54},{"p":5,"c":5,"x":1.2,"y":0.55},{"p":5,"c":5,"x":5,"y":0.55},
{"p":5,"c":6,"x":-4.05,"y":0},{"p":5,"c":6,"x":-3.95,"y":0.05},{"p":5,"c":6,"x":-2.1,"y":0.05},{"p":5,"c":6,"x":-1.95,"y":0.2},{"p":5,"c":6,"x":-1.0,"y":0.2},{"p":5,"c":6,"x":-0.6,"y":0.35},{"p":5,"c":6,"x":-0.45,"y":0.35},{"p":5,"c":6,"x":0,"y":0.42},{"p":5,"c":6,"x":0.5,"y":0.44},{"p":5,"c":6,"x":1.2,"y":0.45},{"p":5,"c":6,"x":5,"y":0.45},
{"p":5,"c":7,"x":-4.05,"y":0},{"p":5,"c":7,"x":-3.95,"y":0.06},{"p":5,"c":7,"x":-2.1,"y":0.06},{"p":5,"c":7,"x":-1.95,"y":0.15},{"p":5,"c":7,"x":-1.0,"y":0.15},{"p":5,"c":7,"x":-0.6,"y":0.3},{"p":5,"c":7,"x":-0.45,"y":0.3},{"p":5,"c":7,"x":0,"y":0.33},{"p":5,"c":7,"x":0.5,"y":0.35},{"p":5,"c":7,"x":1.2,"y":0.35},{"p":5,"c":7,"x":5,"y":0.35},
{"p":5,"c":8,"x":-4.05,"y":0},{"p":5,"c":8,"x":-3.95,"y":0.04},{"p":5,"c":8,"x":-2.1,"y":0.04},{"p":5,"c":8,"x":-1.95,"y":0.12},{"p":5,"c":8,"x":-1.0,"y":0.12},{"p":5,"c":8,"x":-0.6,"y":0.25},{"p":5,"c":8,"x":-0.45,"y":0.22},{"p":5,"c":8,"x":0,"y":0.24},{"p":5,"c":8,"x":0.5,"y":0.25},{"p":5,"c":8,"x":1.2,"y":0.25},{"p":5,"c":8,"x":5,"y":0.25},
{"p":5,"c":9,"x":-4.05,"y":0},{"p":5,"c":9,"x":-3.95,"y":0.03},{"p":5,"c":9,"x":-2.1,"y":0.03},{"p":5,"c":9,"x":-1.95,"y":0.1},{"p":5,"c":9,"x":-1.0,"y":0.1},{"p":5,"c":9,"x":-0.6,"y":0.2},{"p":5,"c":9,"x":-0.45,"y":0.15},{"p":5,"c":9,"x":0,"y":0.15},{"p":5,"c":9,"x":0.5,"y":0.15},{"p":5,"c":9,"x":1.2,"y":0.15},{"p":5,"c":9,"x":5,"y":0.15},
{"p":5,"c":10,"x":-4.05,"y":0},{"p":5,"c":10,"x":-3.95,"y":0.02},{"p":5,"c":10,"x":-2.1,"y":0.02},{"p":5,"c":10,"x":-1.95,"y":0.05},{"p":5,"c":10,"x":-1.0,"y":0.05},{"p":5,"c":10,"x":-0.6,"y":0.1},{"p":5,"c":10,"x":-0.45,"y":0.05},{"p":5,"c":10,"x":0,"y":0.05},{"p":5,"c":10,"x":0.5,"y":0.05},{"p":5,"c":10,"x":1.2,"y":0.05},{"p":5,"c":10,"x":5,"y":0.05},
{"p":5,"c":11,"x":-4.05,"y":0},{"p":5,"c":11,"x":-3.95,"y":0},{"p":5,"c":11,"x":-2.1,"y":0},{"p":5,"c":11,"x":-1.95,"y":0.02},{"p":5,"c":11,"x":-1.0,"y":0},{"p":5,"c":11,"x":-0.6,"y":0},{"p":5,"c":11,"x":-0.45,"y":-0.05},{"p":5,"c":11,"x":0,"y":-0.1},{"p":5,"c":11,"x":0.5,"y":-0.1},{"p":5,"c":11,"x":1.2,"y":-0.1},{"p":5,"c":11,"x":5,"y":-0.1},
{"p":5,"c":12,"x":-4.05,"y":0},{"p":5,"c":12,"x":-3.95,"y":0},{"p":5,"c":12,"x":-2.1,"y":0},{"p":5,"c":12,"x":-1.95,"y":0},{"p":5,"c":12,"x":-1.0,"y":-0.02},{"p":5,"c":12,"x":-0.6,"y":-0.05},{"p":5,"c":12,"x":-0.45,"y":-0.1},{"p":5,"c":12,"x":0,"y":-0.25},{"p":5,"c":12,"x":0.5,"y":-0.28},{"p":5,"c":12,"x":1.2,"y":-0.25},{"p":5,"c":12,"x":5,"y":-0.25},
{"p":5,"c":13,"x":-4.05,"y":0},{"p":5,"c":13,"x":-3.95,"y":0},{"p":5,"c":13,"x":-2.1,"y":0},{"p":5,"c":13,"x":-1.95,"y":-0.02},{"p":5,"c":13,"x":-1.0,"y":-0.05},{"p":5,"c":13,"x":-0.6,"y":-0.1},{"p":5,"c":13,"x":-0.45,"y":-0.2},{"p":5,"c":13,"x":0,"y":-0.38},{"p":5,"c":13,"x":0.5,"y":-0.42},{"p":5,"c":13,"x":1.2,"y":-0.4},{"p":5,"c":13,"x":5,"y":-0.4},
{"p":6,"c":1,"x":-1.5,"y":0},{"p":6,"c":1,"x":-1.35,"y":-0.1},{"p":6,"c":1,"x":-1.15,"y":-0.2},{"p":6,"c":1,"x":-0.5,"y":-0.2},{"p":6,"c":1,"x":-0.35,"y":0.1},{"p":6,"c":1,"x":0.05,"y":0.1},{"p":6,"c":1,"x":0.15,"y":0.15},{"p":6,"c":1,"x":0.7,"y":0.15},{"p":6,"c":1,"x":0.9,"y":0.2},{"p":6,"c":1,"x":1.0,"y":0.75},{"p":6,"c":1,"x":2.34,"y":0.75},
{"p":6,"c":2,"x":-1.5,"y":0},{"p":6,"c":2,"x":-1.35,"y":-0.15},{"p":6,"c":2,"x":-1.15,"y":-0.3},{"p":6,"c":2,"x":-0.5,"y":-0.28},{"p":6,"c":2,"x":-0.35,"y":-0.05},{"p":6,"c":2,"x":0.05,"y":-0.05},{"p":6,"c":2,"x":0.15,"y":0},{"p":6,"c":2,"x":0.7,"y":0},{"p":6,"c":2,"x":0.9,"y":0.1},{"p":6,"c":2,"x":1.0,"y":0.6},{"p":6,"c":2,"x":2.34,"y":0.6},
{"p":6,"c":3,"x":-1.5,"y":0},{"p":6,"c":3,"x":-1.35,"y":-0.12},{"p":6,"c":3,"x":-1.15,"y":-0.15},{"p":6,"c":3,"x":-0.5,"y":-0.12},{"p":6,"c":3,"x":-0.35,"y":-0.12},{"p":6,"c":3,"x":0.05,"y":-0.1},{"p":6,"c":3,"x":0.15,"y":-0.05},{"p":6,"c":3,"x":0.7,"y":-0.05},{"p":6,"c":3,"x":0.9,"y":0},{"p":6,"c":3,"x":1.0,"y":0.45},{"p":6,"c":3,"x":2.34,"y":0.45},
{"p":6,"c":4,"x":-1.5,"y":0},{"p":6,"c":4,"x":-1.35,"y":-0.2},{"p":6,"c":4,"x":-1.15,"y":-0.4},{"p":6,"c":4,"x":-0.5,"y":-0.38},{"p":6,"c":4,"x":-0.35,"y":-0.35},{"p":6,"c":4,"x":0.05,"y":-0.3},{"p":6,"c":4,"x":0.15,"y":-0.2},{"p":6,"c":4,"x":0.7,"y":-0.2},{"p":6,"c":4,"x":0.9,"y":-0.1},{"p":6,"c":4,"x":1.0,"y":0.35},{"p":6,"c":4,"x":2.34,"y":0.35},
{"p":6,"c":5,"x":-1.5,"y":0},{"p":6,"c":5,"x":-1.35,"y":-0.15},{"p":6,"c":5,"x":-1.15,"y":-0.25},{"p":6,"c":5,"x":-0.5,"y":-0.25},{"p":6,"c":5,"x":-0.35,"y":-0.25},{"p":6,"c":5,"x":0.05,"y":-0.22},{"p":6,"c":5,"x":0.15,"y":-0.15},{"p":6,"c":5,"x":0.7,"y":-0.15},{"p":6,"c":5,"x":0.9,"y":-0.1},{"p":6,"c":5,"x":1.0,"y":0.25},{"p":6,"c":5,"x":2.34,"y":0.25},
{"p":6,"c":6,"x":-1.5,"y":0},{"p":6,"c":6,"x":-1.35,"y":-0.2},{"p":6,"c":6,"x":-1.15,"y":-0.35},{"p":6,"c":6,"x":-0.5,"y":-0.32},{"p":6,"c":6,"x":-0.35,"y":-0.3},{"p":6,"c":6,"x":0.05,"y":-0.28},{"p":6,"c":6,"x":0.15,"y":-0.25},{"p":6,"c":6,"x":0.7,"y":-0.25},{"p":6,"c":6,"x":0.9,"y":-0.2},{"p":6,"c":6,"x":1.0,"y":0.15},{"p":6,"c":6,"x":2.34,"y":0.15},
{"p":6,"c":7,"x":-1.5,"y":0},{"p":6,"c":7,"x":-1.35,"y":-0.1},{"p":6,"c":7,"x":-1.15,"y":-0.1},{"p":6,"c":7,"x":-0.5,"y":-0.08},{"p":6,"c":7,"x":-0.35,"y":-0.05},{"p":6,"c":7,"x":0.05,"y":-0.02},{"p":6,"c":7,"x":0.15,"y":0.02},{"p":6,"c":7,"x":0.7,"y":0},{"p":6,"c":7,"x":0.9,"y":0},{"p":6,"c":7,"x":1.0,"y":0.05},{"p":6,"c":7,"x":2.34,"y":0.05},
{"p":6,"c":8,"x":-1.5,"y":0},{"p":6,"c":8,"x":-1.35,"y":-0.25},{"p":6,"c":8,"x":-1.15,"y":-0.45},{"p":6,"c":8,"x":-0.5,"y":-0.42},{"p":6,"c":8,"x":-0.35,"y":-0.4},{"p":6,"c":8,"x":0.05,"y":-0.38},{"p":6,"c":8,"x":0.15,"y":-0.3},{"p":6,"c":8,"x":0.7,"y":-0.3},{"p":6,"c":8,"x":0.9,"y":-0.25},{"p":6,"c":8,"x":1.0,"y":-0.05},{"p":6,"c":8,"x":2.34,"y":-0.05},
{"p":6,"c":9,"x":-1.5,"y":0},{"p":6,"c":9,"x":-1.35,"y":-0.3},{"p":6,"c":9,"x":-1.15,"y":-0.55},{"p":6,"c":9,"x":-0.5,"y":-0.5},{"p":6,"c":9,"x":-0.35,"y":-0.48},{"p":6,"c":9,"x":0.05,"y":-0.45},{"p":6,"c":9,"x":0.15,"y":-0.4},{"p":6,"c":9,"x":0.7,"y":-0.4},{"p":6,"c":9,"x":0.9,"y":-0.35},{"p":6,"c":9,"x":1.0,"y":-0.2},{"p":6,"c":9,"x":2.34,"y":-0.2},
{"p":6,"c":10,"x":-1.5,"y":0},{"p":6,"c":10,"x":-1.35,"y":-0.3},{"p":6,"c":10,"x":-1.15,"y":-0.6},{"p":6,"c":10,"x":-0.5,"y":-0.6},{"p":6,"c":10,"x":-0.35,"y":-0.55},{"p":6,"c":10,"x":0.05,"y":-0.5},{"p":6,"c":10,"x":0.15,"y":-0.3},{"p":6,"c":10,"x":0.7,"y":-0.3},{"p":6,"c":10,"x":0.9,"y":-0.3},{"p":6,"c":10,"x":1.0,"y":-0.3},{"p":6,"c":10,"x":2.34,"y":-0.3},
{"p":6,"c":11,"x":-1.5,"y":0},{"p":6,"c":11,"x":-1.35,"y":-0.35},{"p":6,"c":11,"x":-1.15,"y":-0.7},{"p":6,"c":11,"x":-0.5,"y":-0.68},{"p":6,"c":11,"x":-0.35,"y":-0.65},{"p":6,"c":11,"x":0.05,"y":-0.62},{"p":6,"c":11,"x":0.15,"y":-0.55},{"p":6,"c":11,"x":0.7,"y":-0.55},{"p":6,"c":11,"x":0.9,"y":-0.5},{"p":6,"c":11,"x":1.0,"y":-0.45},{"p":6,"c":11,"x":2.34,"y":-0.45},
{"p":6,"c":12,"x":-1.5,"y":0},{"p":6,"c":12,"x":-1.35,"y":-0.4},{"p":6,"c":12,"x":-1.15,"y":-0.8},{"p":6,"c":12,"x":-0.5,"y":-0.78},{"p":6,"c":12,"x":-0.35,"y":-0.75},{"p":6,"c":12,"x":0.05,"y":-0.72},{"p":6,"c":12,"x":0.15,"y":-0.7},{"p":6,"c":12,"x":0.7,"y":-0.75},{"p":6,"c":12,"x":0.9,"y":-0.8},{"p":6,"c":12,"x":1.0,"y":-0.75},{"p":6,"c":12,"x":2.34,"y":-0.75},
{"p":6,"c":13,"x":-1.5,"y":0},{"p":6,"c":13,"x":-1.35,"y":-0.45},{"p":6,"c":13,"x":-1.15,"y":-0.92},{"p":6,"c":13,"x":-0.5,"y":-0.9},{"p":6,"c":13,"x":-0.35,"y":-0.88},{"p":6,"c":13,"x":0.05,"y":-0.85},{"p":6,"c":13,"x":0.15,"y":-0.82},{"p":6,"c":13,"x":0.7,"y":-0.9},{"p":6,"c":13,"x":0.9,"y":-0.98},{"p":6,"c":13,"x":1.0,"y":-0.85},{"p":6,"c":13,"x":2.34,"y":-0.85},
{"p":7,"c":1,"x":-1.7,"y":0},{"p":7,"c":1,"x":-1.4,"y":-0.02},{"p":7,"c":1,"x":-1.0,"y":0.05},{"p":7,"c":1,"x":-0.6,"y":0.3},{"p":7,"c":1,"x":-0.3,"y":0.8},{"p":7,"c":1,"x":-0.15,"y":0.95},{"p":7,"c":1,"x":0.2,"y":1.0},{"p":7,"c":1,"x":0.8,"y":0.98},{"p":7,"c":1,"x":1.5,"y":0.95},{"p":7,"c":1,"x":2.66,"y":0.95},
{"p":7,"c":2,"x":-1.7,"y":0},{"p":7,"c":2,"x":-1.4,"y":-0.02},{"p":7,"c":2,"x":-1.0,"y":0.05},{"p":7,"c":2,"x":-0.6,"y":0.25},{"p":7,"c":2,"x":-0.3,"y":0.6},{"p":7,"c":2,"x":-0.15,"y":0.8},{"p":7,"c":2,"x":0.2,"y":0.85},{"p":7,"c":2,"x":0.8,"y":0.82},{"p":7,"c":2,"x":1.5,"y":0.8},{"p":7,"c":2,"x":2.66,"y":0.8},
{"p":7,"c":3,"x":-1.7,"y":0},{"p":7,"c":3,"x":-1.4,"y":-0.03},{"p":7,"c":3,"x":-1.0,"y":0.04},{"p":7,"c":3,"x":-0.6,"y":0.2},{"p":7,"c":3,"x":-0.3,"y":0.5},{"p":7,"c":3,"x":-0.15,"y":0.65},{"p":7,"c":3,"x":0.2,"y":0.7},{"p":7,"c":3,"x":0.8,"y":0.67},{"p":7,"c":3,"x":1.5,"y":0.65},{"p":7,"c":3,"x":2.66,"y":0.65},
{"p":7,"c":4,"x":-1.7,"y":0},{"p":7,"c":4,"x":-1.4,"y":-0.03},{"p":7,"c":4,"x":-1.0,"y":0.03},{"p":7,"c":4,"x":-0.6,"y":0.18},{"p":7,"c":4,"x":-0.3,"y":0.45},{"p":7,"c":4,"x":-0.15,"y":0.55},{"p":7,"c":4,"x":0.2,"y":0.6},{"p":7,"c":4,"x":0.8,"y":0.57},{"p":7,"c":4,"x":1.5,"y":0.55},{"p":7,"c":4,"x":2.66,"y":0.55},
{"p":7,"c":5,"x":-1.7,"y":0},{"p":7,"c":5,"x":-1.4,"y":-0.03},{"p":7,"c":5,"x":-1.0,"y":0.03},{"p":7,"c":5,"x":-0.6,"y":0.15},{"p":7,"c":5,"x":-0.3,"y":0.38},{"p":7,"c":5,"x":-0.15,"y":0.45},{"p":7,"c":5,"x":0.2,"y":0.48},{"p":7,"c":5,"x":0.8,"y":0.46},{"p":7,"c":5,"x":1.5,"y":0.45},{"p":7,"c":5,"x":2.66,"y":0.45},
{"p":7,"c":6,"x":-1.7,"y":0},{"p":7,"c":6,"x":-1.4,"y":-0.04},{"p":7,"c":6,"x":-1.0,"y":0.02},{"p":7,"c":6,"x":-0.6,"y":0.12},{"p":7,"c":6,"x":-0.3,"y":0.3},{"p":7,"c":6,"x":-0.15,"y":0.38},{"p":7,"c":6,"x":0.2,"y":0.4},{"p":7,"c":6,"x":0.8,"y":0.37},{"p":7,"c":6,"x":1.5,"y":0.35},{"p":7,"c":6,"x":2.66,"y":0.35},
{"p":7,"c":7,"x":-1.7,"y":0},{"p":7,"c":7,"x":-1.4,"y":-0.04},{"p":7,"c":7,"x":-1.0,"y":0.02},{"p":7,"c":7,"x":-0.6,"y":0.1},{"p":7,"c":7,"x":-0.3,"y":0.25},{"p":7,"c":7,"x":-0.15,"y":0.3},{"p":7,"c":7,"x":0.2,"y":0.3},{"p":7,"c":7,"x":0.8,"y":0.28},{"p":7,"c":7,"x":1.5,"y":0.27},{"p":7,"c":7,"x":2.66,"y":0.27},
{"p":7,"c":8,"x":-1.7,"y":0},{"p":7,"c":8,"x":-1.4,"y":-0.04},{"p":7,"c":8,"x":-1.0,"y":0.01},{"p":7,"c":8,"x":-0.6,"y":0.08},{"p":7,"c":8,"x":-0.3,"y":0.2},{"p":7,"c":8,"x":-0.15,"y":0.25},{"p":7,"c":8,"x":0.2,"y":0.22},{"p":7,"c":8,"x":0.8,"y":0.2},{"p":7,"c":8,"x":1.5,"y":0.2},{"p":7,"c":8,"x":2.66,"y":0.2},
{"p":7,"c":9,"x":-1.7,"y":0},{"p":7,"c":9,"x":-1.4,"y":-0.05},{"p":7,"c":9,"x":-1.0,"y":0},{"p":7,"c":9,"x":-0.6,"y":0.05},{"p":7,"c":9,"x":-0.3,"y":0.15},{"p":7,"c":9,"x":-0.15,"y":0.2},{"p":7,"c":9,"x":0.2,"y":0.15},{"p":7,"c":9,"x":0.8,"y":0.12},{"p":7,"c":9,"x":1.5,"y":0.12},{"p":7,"c":9,"x":2.66,"y":0.12},
{"p":7,"c":10,"x":-1.7,"y":0},{"p":7,"c":10,"x":-1.4,"y":-0.05},{"p":7,"c":10,"x":-1.0,"y":-0.02},{"p":7,"c":10,"x":-0.6,"y":0.03},{"p":7,"c":10,"x":-0.3,"y":0.1},{"p":7,"c":10,"x":-0.15,"y":0.12},{"p":7,"c":10,"x":0.2,"y":0.05},{"p":7,"c":10,"x":0.8,"y":0.05},{"p":7,"c":10,"x":1.5,"y":0.05},{"p":7,"c":10,"x":2.66,"y":0.05},
{"p":7,"c":11,"x":-1.7,"y":0},{"p":7,"c":11,"x":-1.4,"y":-0.06},{"p":7,"c":11,"x":-1.0,"y":-0.04},{"p":7,"c":11,"x":-0.6,"y":0},{"p":7,"c":11,"x":-0.3,"y":0.05},{"p":7,"c":11,"x":-0.15,"y":0.05},{"p":7,"c":11,"x":0.2,"y":-0.05},{"p":7,"c":11,"x":0.8,"y":-0.05},{"p":7,"c":11,"x":1.5,"y":-0.05},{"p":7,"c":11,"x":2.66,"y":-0.05},
{"p":7,"c":12,"x":-1.7,"y":0},{"p":7,"c":12,"x":-1.4,"y":-0.06},{"p":7,"c":12,"x":-1.0,"y":-0.06},{"p":7,"c":12,"x":-0.6,"y":-0.05},{"p":7,"c":12,"x":-0.3,"y":-0.05},{"p":7,"c":12,"x":-0.15,"y":-0.1},{"p":7,"c":12,"x":0.2,"y":-0.2},{"p":7,"c":12,"x":0.8,"y":-0.18},{"p":7,"c":12,"x":1.5,"y":-0.15},{"p":7,"c":12,"x":2.66,"y":-0.15},
{"p":7,"c":13,"x":-1.7,"y":0},{"p":7,"c":13,"x":-1.4,"y":-0.06},{"p":7,"c":13,"x":-1.0,"y":-0.08},{"p":7,"c":13,"x":-0.6,"y":-0.1},{"p":7,"c":13,"x":-0.3,"y":-0.15},{"p":7,"c":13,"x":-0.15,"y":-0.25},{"p":7,"c":13,"x":0.2,"y":-0.4},{"p":7,"c":13,"x":0.8,"y":-0.35},{"p":7,"c":13,"x":1.5,"y":-0.3},{"p":7,"c":13,"x":2.66,"y":-0.3},
{"p":8,"c":1,"x":-1.0,"y":0},{"p":8,"c":1,"x":-0.5,"y":0.05},{"p":8,"c":1,"x":-0.2,"y":0.15},{"p":8,"c":1,"x":0.1,"y":0.2},{"p":8,"c":1,"x":0.5,"y":0.2},{"p":8,"c":1,"x":0.8,"y":0.25},{"p":8,"c":1,"x":1.0,"y":0.35},{"p":8,"c":1,"x":1.2,"y":0.45},{"p":8,"c":1,"x":1.5,"y":0.5},{"p":8,"c":1,"x":1.74,"y":0.5},
{"p":8,"c":2,"x":-1.0,"y":0},{"p":8,"c":2,"x":-0.5,"y":0.03},{"p":8,"c":2,"x":-0.2,"y":0.1},{"p":8,"c":2,"x":0.1,"y":0.15},{"p":8,"c":2,"x":0.5,"y":0.15},{"p":8,"c":2,"x":0.8,"y":0.15},{"p":8,"c":2,"x":1.0,"y":0.2},{"p":8,"c":2,"x":1.2,"y":0.25},{"p":8,"c":2,"x":1.5,"y":0.3},{"p":8,"c":2,"x":1.74,"y":0.3},
{"p":8,"c":3,"x":-1.0,"y":0},{"p":8,"c":3,"x":-0.5,"y":0.02},{"p":8,"c":3,"x":-0.2,"y":0.05},{"p":8,"c":3,"x":0.1,"y":0.1},{"p":8,"c":3,"x":0.5,"y":0.1},{"p":8,"c":3,"x":0.8,"y":0.1},{"p":8,"c":3,"x":1.0,"y":0.05},{"p":8,"c":3,"x":1.2,"y":0.05},{"p":8,"c":3,"x":1.5,"y":0.1},{"p":8,"c":3,"x":1.74,"y":0.1},
{"p":8,"c":4,"x":-1.0,"y":0},{"p":8,"c":4,"x":-0.5,"y":0},{"p":8,"c":4,"x":-0.2,"y":0.02},{"p":8,"c":4,"x":0.1,"y":0.05},{"p":8,"c":4,"x":0.5,"y":0.05},{"p":8,"c":4,"x":0.8,"y":0},{"p":8,"c":4,"x":1.0,"y":-0.05},{"p":8,"c":4,"x":1.2,"y":-0.05},{"p":8,"c":4,"x":1.5,"y":-0.05},{"p":8,"c":4,"x":1.74,"y":-0.05},
{"p":8,"c":5,"x":-1.0,"y":0},{"p":8,"c":5,"x":-0.5,"y":-0.02},{"p":8,"c":5,"x":-0.2,"y":0},{"p":8,"c":5,"x":0.1,"y":0.03},{"p":8,"c":5,"x":0.5,"y":0.02},{"p":8,"c":5,"x":0.8,"y":-0.02},{"p":8,"c":5,"x":1.0,"y":-0.1},{"p":8,"c":5,"x":1.2,"y":-0.2},{"p":8,"c":5,"x":1.5,"y":-0.2},{"p":8,"c":5,"x":1.74,"y":-0.2},
{"p":8,"c":6,"x":-1.0,"y":0},{"p":8,"c":6,"x":-0.5,"y":-0.05},{"p":8,"c":6,"x":-0.2,"y":-0.02},{"p":8,"c":6,"x":0.1,"y":0},{"p":8,"c":6,"x":0.5,"y":0},{"p":8,"c":6,"x":0.8,"y":-0.05},{"p":8,"c":6,"x":1.0,"y":-0.15},{"p":8,"c":6,"x":1.2,"y":-0.28},{"p":8,"c":6,"x":1.5,"y":-0.3},{"p":8,"c":6,"x":1.74,"y":-0.3},
{"p":8,"c":7,"x":-1.0,"y":0},{"p":8,"c":7,"x":-0.5,"y":-0.06},{"p":8,"c":7,"x":-0.2,"y":-0.05},{"p":8,"c":7,"x":0.1,"y":0},{"p":8,"c":7,"x":0.5,"y":-0.02},{"p":8,"c":7,"x":0.8,"y":-0.08},{"p":8,"c":7,"x":1.0,"y":-0.25},{"p":8,"c":7,"x":1.2,"y":-0.38},{"p":8,"c":7,"x":1.5,"y":-0.4},{"p":8,"c":7,"x":1.74,"y":-0.4},
{"p":8,"c":8,"x":-1.0,"y":0},{"p":8,"c":8,"x":-0.5,"y":-0.08},{"p":8,"c":8,"x":-0.2,"y":-0.08},{"p":8,"c":8,"x":0.1,"y":-0.05},{"p":8,"c":8,"x":0.5,"y":-0.05},{"p":8,"c":8,"x":0.8,"y":-0.1},{"p":8,"c":8,"x":1.0,"y":-0.3},{"p":8,"c":8,"x":1.2,"y":-0.48},{"p":8,"c":8,"x":1.5,"y":-0.5},{"p":8,"c":8,"x":1.74,"y":-0.5},
{"p":8,"c":9,"x":-1.0,"y":0},{"p":8,"c":9,"x":-0.5,"y":-0.1},{"p":8,"c":9,"x":-0.2,"y":-0.12},{"p":8,"c":9,"x":0.1,"y":-0.1},{"p":8,"c":9,"x":0.5,"y":-0.08},{"p":8,"c":9,"x":0.8,"y":-0.12},{"p":8,"c":9,"x":1.0,"y":-0.35},{"p":8,"c":9,"x":1.2,"y":-0.58},{"p":8,"c":9,"x":1.5,"y":-0.6},{"p":8,"c":9,"x":1.74,"y":-0.6},
{"p":8,"c":10,"x":-1.0,"y":0},{"p":8,"c":10,"x":-0.5,"y":-0.15},{"p":8,"c":10,"x":-0.2,"y":-0.2},{"p":8,"c":10,"x":0.1,"y":-0.18},{"p":8,"c":10,"x":0.5,"y":-0.15},{"p":8,"c":10,"x":0.8,"y":-0.2},{"p":8,"c":10,"x":1.0,"y":-0.45},{"p":8,"c":10,"x":1.2,"y":-0.7},{"p":8,"c":10,"x":1.5,"y":-0.75},{"p":8,"c":10,"x":1.74,"y":-0.75},
{"p":8,"c":11,"x":-1.0,"y":0},{"p":8,"c":11,"x":-0.5,"y":-0.2},{"p":8,"c":11,"x":-0.2,"y":-0.3},{"p":8,"c":11,"x":0.1,"y":-0.28},{"p":8,"c":11,"x":0.5,"y":-0.25},{"p":8,"c":11,"x":0.8,"y":-0.25},{"p":8,"c":11,"x":1.0,"y":-0.55},{"p":8,"c":11,"x":1.2,"y":-0.9},{"p":8,"c":11,"x":1.5,"y":-0.95},{"p":8,"c":11,"x":1.74,"y":-0.95}
]
},
"vconcat":[
{"spacing":93,"hconcat":[
{"width":162,"height":145,"layer":[
{"data":{"name":"ice"},"transform":[{"filter":"datum.p==1"}],"mark":{"type":"line","color":"#000","strokeWidth":1.4,"opacity":0.3,"clip":true},
"encoding":{"x":{"field":"x","type":"quantitative","scale":{"domain":[-4.7,5.66],"nice":false,"zero":false},"axis":{"orient":"bottom","values":[-4,-2,0,2,4],"format":"d","labelExpr":"replace(datum.label,'−','-')","title":"context_sentiment"}},
"y":{"field":"y","type":"quantitative","scale":{"domain":[-1.03,2.89],"nice":false,"zero":false},"axis":{"orient":"left","values":[-1,0,1,2],"format":"d","labelExpr":"datum.value==-1?'':datum.label","title":"Predicted Trust"}},
"detail":{"field":"c","type":"nominal"}}},
{"data":{"name":"pd"},"transform":[{"filter":"datum.p==1"}],"mark":{"type":"line","color":"#e0321f","strokeWidth":3,"clip":true},
"encoding":{"x":{"field":"x","type":"quantitative","axis":{"orient":"top","values":[-4,-2,0,2,4],"labels":false,"title":null}},
"y":{"field":"y","type":"quantitative","axis":{"orient":"right","values":[-1,0,1,2],"labels":false,"title":null}}}}
],"resolve":{"axis":{"x":"independent","y":"independent"}}},
{"width":150,"height":145,"layer":[
{"data":{"name":"ice"},"transform":[{"filter":"datum.p==2"}],"mark":{"type":"line","color":"#000","strokeWidth":1.4,"opacity":0.3,"clip":true},
"encoding":{"x":{"field":"x","type":"quantitative","scale":{"domain":[-4.48,2.77],"nice":false,"zero":false},"axis":{"orient":"bottom","values":[-4,-2,0,2],"format":"d","labelExpr":"replace(datum.label,'−','-')","title":"F2_mean"}},
"y":{"field":"y","type":"quantitative","scale":{"domain":[-1.03,2.48],"nice":false,"zero":false},"axis":{"orient":"left","values":[-1,-0.5,0,0.5,1,1.5,2],"format":".1f","labelExpr":"datum.value==-1?'':replace(datum.label,'−','-')","title":null}},
"detail":{"field":"c","type":"nominal"}}},
{"data":{"name":"pd"},"transform":[{"filter":"datum.p==2"}],"mark":{"type":"line","color":"#e0321f","strokeWidth":3,"clip":true},
"encoding":{"x":{"field":"x","type":"quantitative","axis":{"orient":"top","values":[-4,-2,0,2],"labels":false,"title":null}},
"y":{"field":"y","type":"quantitative","axis":{"orient":"right","values":[-1,-0.5,0,0.5,1,1.5,2],"labels":false,"title":null}}}}
],"resolve":{"axis":{"x":"independent","y":"independent"}}},
{"width":150,"height":145,"layer":[
{"data":{"name":"ice"},"transform":[{"filter":"datum.p==3"}],"mark":{"type":"line","color":"#000","strokeWidth":1.4,"opacity":0.3,"clip":true},
"encoding":{"x":{"field":"x","type":"quantitative","scale":{"domain":[-3.08,4.19],"nice":false,"zero":false},"axis":{"orient":"bottom","values":[-2,0,2,4],"format":"d","labelExpr":"replace(datum.label,'−','-')","title":"F1_mean"}},
"y":{"field":"y","type":"quantitative","scale":{"domain":[-1.04,2.12],"nice":false,"zero":false},"axis":{"orient":"left","values":[-1,-0.5,0,0.5,1,1.5,2],"format":".1f","labelExpr":"replace(datum.label,'−','-')","title":null}},
"detail":{"field":"c","type":"nominal"}}},
{"data":{"name":"pd"},"transform":[{"filter":"datum.p==3"}],"mark":{"type":"line","color":"#e0321f","strokeWidth":3,"clip":true},
"encoding":{"x":{"field":"x","type":"quantitative","axis":{"orient":"top","values":[-2,0,2,4],"labels":false,"title":null}},
"y":{"field":"y","type":"quantitative","axis":{"orient":"right","values":[-1,-0.5,0,0.5,1,1.5,2],"labels":false,"title":null}}}}
],"resolve":{"axis":{"x":"independent","y":"independent"}}},
{"width":150,"height":145,"layer":[
{"data":{"name":"ice"},"transform":[{"filter":"datum.p==4"}],"mark":{"type":"line","color":"#000","strokeWidth":1.4,"opacity":0.3,"clip":true},
"encoding":{"x":{"field":"x","type":"quantitative","scale":{"domain":[-2.73,2.5],"nice":false,"zero":false},"axis":{"orient":"bottom","values":[-2,-1,0,1,2],"format":"d","labelExpr":"replace(datum.label,'−','-')","title":"mfcc_mean"}},
"y":{"field":"y","type":"quantitative","scale":{"domain":[-1.19,0.7],"nice":false,"zero":false},"axis":{"orient":"left","values":[-1,-0.5,0,0.5],"format":".1f","labelExpr":"replace(datum.label,'−','-')","title":null}},
"detail":{"field":"c","type":"nominal"}}},
{"data":{"name":"pd"},"transform":[{"filter":"datum.p==4"}],"mark":{"type":"line","color":"#e0321f","strokeWidth":3,"clip":true},
"encoding":{"x":{"field":"x","type":"quantitative","axis":{"orient":"top","values":[-2,-1,0,1,2],"labels":false,"title":null}},
"y":{"field":"y","type":"quantitative","axis":{"orient":"right","values":[-1,-0.5,0,0.5],"labels":false,"title":null}}}}
],"resolve":{"axis":{"x":"independent","y":"independent"}}}
]},
{"spacing":93,"hconcat":[
{"width":162,"height":145,"view":{"stroke":null},"layer":[
{"data":{"name":"ice"},"transform":[{"filter":"datum.p==5"}],"mark":{"type":"line","color":"#000","strokeWidth":1.4,"opacity":0.3,"clip":true},
"encoding":{"x":{"field":"x","type":"quantitative","scale":{"domain":[-5.72,5.72],"range":[12,162],"nice":false,"zero":false},"axis":{"orient":"bottom","values":[-4,-2,0,2,4],"format":"d","labelExpr":"replace(datum.label,'−','-')","title":"AFINN_scale"}},
"y":{"field":"y","type":"quantitative","scale":{"domain":[-0.59,1.29],"nice":false,"zero":false},"axis":{"orient":"left","offset":-12,"values":[-0.5,0,0.5,1],"format":".1f","labelExpr":"replace(datum.label,'−','-')","title":null}},
"detail":{"field":"c","type":"nominal"}}},
{"data":{"name":"pd"},"transform":[{"filter":"datum.p==5"}],"mark":{"type":"line","color":"#e0321f","strokeWidth":3,"clip":true},
"encoding":{"x":{"field":"x","type":"quantitative","axis":{"orient":"top","values":[-4,-2,0,2,4],"labels":false,"title":null}},
"y":{"field":"y","type":"quantitative","axis":{"orient":"right","values":[-0.5,0,0.5,1],"labels":false,"title":null}}}}
],"resolve":{"axis":{"x":"independent","y":"independent"}}},
{"width":150,"height":145,"layer":[
{"data":{"name":"ice"},"transform":[{"filter":"datum.p==6"}],"mark":{"type":"line","color":"#000","strokeWidth":1.4,"opacity":0.3,"clip":true},
"encoding":{"x":{"field":"x","type":"quantitative","scale":{"domain":[-2.18,2.62],"nice":false,"zero":false},"axis":{"orient":"bottom","values":[-2,-1,0,1,2],"format":"d","labelExpr":"replace(datum.label,'−','-')","title":"f0_sd"}},
"y":{"field":"y","type":"quantitative","scale":{"domain":[-1.17,0.93],"nice":false,"zero":false},"axis":{"orient":"left","values":[-1,-0.5,0,0.5],"format":".1f","labelExpr":"replace(datum.label,'−','-')","title":null}},
"detail":{"field":"c","type":"nominal"}}},
{"data":{"name":"pd"},"transform":[{"filter":"datum.p==6"}],"mark":{"type":"line","color":"#e0321f","strokeWidth":3,"clip":true},
"encoding":{"x":{"field":"x","type":"quantitative","axis":{"orient":"top","values":[-2,-1,0,1,2],"labels":false,"title":null}},
"y":{"field":"y","type":"quantitative","axis":{"orient":"right","values":[-1,-0.5,0,0.5],"labels":false,"title":null}}}}
],"resolve":{"axis":{"x":"independent","y":"independent"}}},
{"width":150,"height":145,"layer":[
{"data":{"name":"ice"},"transform":[{"filter":"datum.p==7"}],"mark":{"type":"line","color":"#000","strokeWidth":1.4,"opacity":0.3,"clip":true},
"encoding":{"x":{"field":"x","type":"quantitative","scale":{"domain":[-5.27,3.13],"nice":false,"zero":false},"axis":{"orient":"bottom","values":[-4,-2,0,2],"format":"d","labelExpr":"replace(datum.label,'−','-')","title":"F3_mean"}},
"y":{"field":"y","type":"quantitative","scale":{"domain":[-0.52,1.17],"nice":false,"zero":false},"axis":{"orient":"left","values":[-0.5,0,0.5,1],"format":".1f","labelExpr":"datum.value==-0.5?'':replace(datum.label,'−','-')","title":null}},
"detail":{"field":"c","type":"nominal"}}},
{"data":{"name":"pd"},"transform":[{"filter":"datum.p==7"}],"mark":{"type":"line","color":"#e0321f","strokeWidth":3,"clip":true},
"encoding":{"x":{"field":"x","type":"quantitative","axis":{"orient":"top","values":[-4,-2,0,2],"labels":false,"title":null}},
"y":{"field":"y","type":"quantitative","axis":{"orient":"right","values":[-0.5,0,0.5,1],"labels":false,"title":null}}}}
],"resolve":{"axis":{"x":"independent","y":"independent"}}},
{"width":150,"height":145,"layer":[
{"data":{"name":"ice"},"transform":[{"filter":"datum.p==8"}],"mark":{"type":"line","color":"#000","strokeWidth":1.4,"opacity":0.3,"clip":true},
"encoding":{"x":{"field":"x","type":"quantitative","scale":{"domain":[-6.49,2.28],"nice":false,"zero":false},"axis":{"orient":"bottom","values":[-6,-4,-2,0,2],"format":"d","labelExpr":"replace(datum.label,'−','-')","title":"F4_mean"}},
"y":{"field":"y","type":"quantitative","scale":{"domain":[-1.19,0.66],"nice":false,"zero":false},"axis":{"orient":"left","values":[-1,-0.5,0,0.5],"format":".1f","labelExpr":"replace(datum.label,'−','-')","title":null}},
"detail":{"field":"c","type":"nominal"}}},
{"data":{"name":"pd"},"transform":[{"filter":"datum.p==8"}],"mark":{"type":"line","color":"#e0321f","strokeWidth":3,"clip":true},
"encoding":{"x":{"field":"x","type":"quantitative","axis":{"orient":"top","values":[-6,-4,-2,0,2],"labels":false,"title":null}},
"y":{"field":"y","type":"quantitative","axis":{"orient":"right","values":[-1,-0.5,0,0.5],"labels":false,"title":null}}}}
],"resolve":{"axis":{"x":"independent","y":"independent"}}}
]}
],
"spacing":72
}
